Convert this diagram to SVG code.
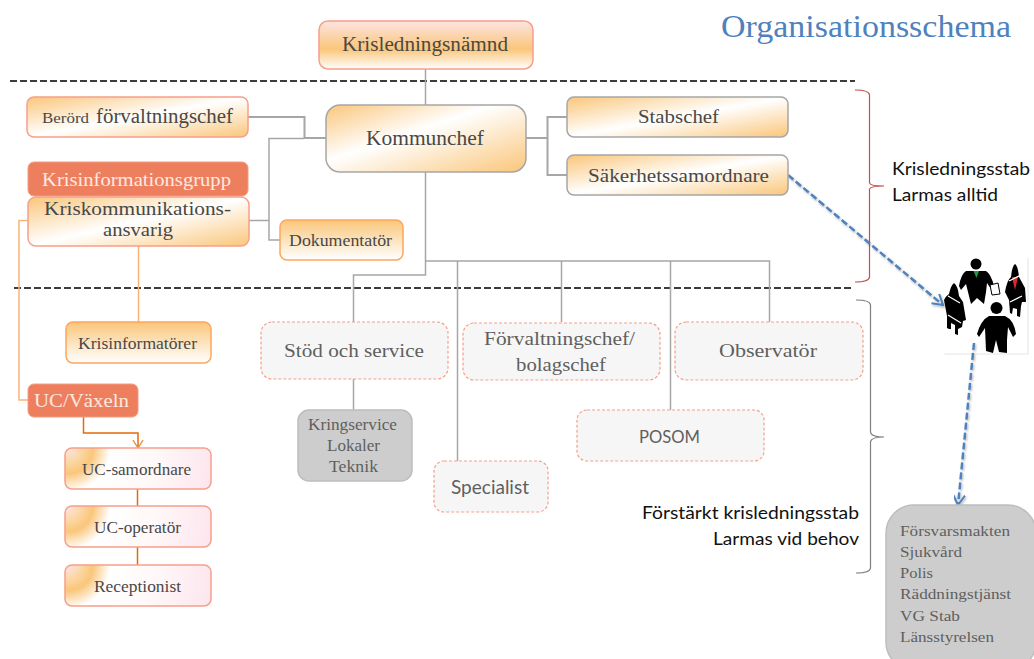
<svg xmlns="http://www.w3.org/2000/svg" width="1034" height="659" viewBox="0 0 1034 659">
<style>
text{font-family:"Liberation Serif",serif;fill:#484848;font-size:19px}
.s{font-family:Lato,"Liberation Sans",sans-serif}
.sm{font-size:15px}
.md{font-size:17px}
.lg{font-size:20px}
.gr{fill:#5f5f5f}
.w{fill:#FCE9E1}
.blk{fill:#111;font-family:Lato,"Liberation Sans",sans-serif;font-size:18px}
.dash{stroke:#3c3c3c;stroke-width:2;stroke-dasharray:7 3;fill:none}
.c{fill:none;stroke:#A6A6A6;stroke-width:1.5}
.c2{fill:none;stroke:#A6A6A6;stroke-width:2}
.o{fill:none;stroke:#F9B277;stroke-width:1.5}
.o2{fill:none;stroke:#E36C0A;stroke-width:1.5}
.b{fill:none;stroke:#4F81BD;stroke-width:2.5;stroke-dasharray:7 3;filter:url(#sh)}
.pnk{stroke:#F79F8B;stroke-width:1.5}
.gry{stroke:#A6A6A6;stroke-width:1.5}
.org{stroke:#FDA65C;stroke-width:1.5}
.dsh{fill:#F6F6F6;stroke:#F79F8B;stroke-width:1.2;stroke-dasharray:3 2}
.grey{fill:#CDCDCD;stroke:#BDBDBD;stroke-width:1.5}
.red{fill:#EE7F5E;stroke:#F59C80;stroke-width:1}
.k{fill:#000}
</style>
<defs>
<linearGradient id="g1" x1="0" y1="0" x2="0" y2="1"><stop offset="0" stop-color="#FDE4E3"/><stop offset=".58" stop-color="#FAC67A"/><stop offset="1" stop-color="#fff"/></linearGradient>
<linearGradient id="g2" x1="0" y1="0" x2="1" y2="1"><stop offset="0" stop-color="#FAC67A"/><stop offset=".5" stop-color="#fff"/><stop offset="1" stop-color="#FAC67A"/></linearGradient>
<linearGradient id="g2k" x1="0" y1="0" x2="1" y2="1"><stop offset="0" stop-color="#FAC67A"/><stop offset=".42" stop-color="#fff"/><stop offset="1" stop-color="#FAC67A"/></linearGradient>
<linearGradient id="g3" x1="0" y1="0" x2="0" y2="1"><stop offset="0" stop-color="#FAC67A"/><stop offset="1" stop-color="#fff"/></linearGradient>
<radialGradient id="g4" gradientUnits="objectBoundingBox" cx="0" cy="0" r="1" gradientTransform="translate(0.02 0.02) scale(1 3.56)"><stop offset="0" stop-color="#FDE4E3"/><stop offset=".1" stop-color="#FBD6A0"/><stop offset=".17" stop-color="#FAC67A"/><stop offset=".29" stop-color="#fff"/><stop offset=".6" stop-color="#FFF8F8"/><stop offset="1" stop-color="#FDE6EF"/></radialGradient>
<filter id="sh" x="-20%" y="-20%" width="140%" height="140%"><feDropShadow dx="1" dy="1.5" stdDeviation="1" flood-color="#000" flood-opacity=".3"/></filter>
<marker id="ao" markerWidth="12" markerHeight="12" refX="9" refY="6" orient="auto" markerUnits="userSpaceOnUse"><path d="M1 1L9 6L1 11" fill="none" stroke="#E98A3A" stroke-width="1.4"/></marker>
<marker id="ab" markerWidth="16" markerHeight="16" refX="12" refY="8" orient="auto" markerUnits="userSpaceOnUse"><path d="M2 2L12 8L2 14" fill="none" stroke="#4F81BD" stroke-width="2"/></marker>
</defs>
<rect width="1034" height="659" fill="#fff"/>

<g id="connectors">
<path class="dash" d="M10 81H855"/>
<path class="dash" d="M14 288H853"/>
<path class="c" d="M425.500 69V105"/>
<path class="c2" d="M248 117H304.500V138H326"/>
<path class="c" d="M249 220.500H269M269 220.500V138.500H304M269 220.500V240H280"/>
<path class="c2" d="M526 138H547"/>
<path class="c2" d="M567 117H547.500V175H567"/>
<path class="c" d="M425.500 172V275H353.500V322M353.500 379V410"/>
<path class="c" d="M425.500 261H769.500V322M457.500 261V461M561.500 261V322M670.500 261V410"/>
<path class="o" d="M28 220.500H19V400H28"/>
<path class="o" d="M138.500 246V322"/>
<path class="o2" stroke="#E98A3A" d="M83.500 417V433H138V448" marker-end="url(#ao)"/>
<path class="o2" d="M137.500 489V506M137.500 547V565"/>
<path d="M855 90Q869 90 869.500 95V183Q870 186 884 186Q870 186 869.500 189V277Q869 282 855 282" fill="none" stroke="#C0504D" stroke-width="1.200"/>
<path d="M856 300Q870 300 870.500 305V432Q871 437 884 437Q871 437 870.500 442V568Q870 573 856 573" fill="none" stroke="#7F7F7F" stroke-width="1.200"/>
</g>

<g id="people">
<path d="M944.500 354H1028V258" fill="none" stroke="#E4E4E4" stroke-width="1"/>
<circle class="k" cx="976" cy="264" r="5.500"/>
<path class="k" d="M966 271H986Q991 274 994 286L991 289L987 283L986 292L984 304L977 298L971 304L968 292L966 284L961 290L959 286Q961 274 966 271Z"/>
<path d="M973.500 271H979L976.500 278Z" fill="#1E9B45"/>
<path d="M990 285L998 283L1000 294L992 295Z" fill="#fff" stroke="#000" stroke-width="1"/>
<path class="k" d="M1015 264Q1018 266 1019 277L1025 288L1026 302L1022 302L1021 306L1020 317L1017 316V309L1013 308L1012 314L1010 313L1009 300L1005 292Q1007 280 1011 277Q1012 266 1015 264Z"/>
<path d="M1012 277L1018 277L1015 290Z" fill="#D92B2B"/>
<path class="k" d="M954 283Q958 286 959 296L963 302L966 320L963 321L962 327L958 329L958 335L955 334L955 325L951 323V329L949 329L947 328L947 316L944 300Q946 296 949 294Q951 285 954 283Z"/>
<path d="M948 296L960 303M948 315L961 323" stroke="#fff" stroke-width="1.200" fill="none"/>
<path d="M1009 281L1023 274M1010 302L1022 296" stroke="#fff" stroke-width="1.200" fill="none"/>
<circle class="k" cx="996.500" cy="308" r="6"/>
<path class="k" d="M989 316H1005Q1014 320 1016 334L1013 337L1008 327L1007 340L1007 353L999 352L996 340L993 353L986 351L985 328L979 337L977 334Q981 320 989 316Z"/>
</g>

<g id="blue-arrows">
<path class="b" d="M788 175L943 305" marker-end="url(#ab)"/>
<path class="b" d="M974 343L958 505" marker-end="url(#ab)"/>
</g>

<g id="n-krisledningsnamnd"><rect x="319" y="21" width="214" height="48" rx="9" fill="url(#g1)" class="pnk"/><text x="342" y="51" class="lg" textLength="166" lengthAdjust="spacingAndGlyphs">Krisledningsnämnd</text></g>
<g id="n-berord"><rect x="27" y="97" width="221" height="40" rx="7" fill="url(#g2)" class="pnk"/><text x="42" y="123" class="sm" textLength="47" lengthAdjust="spacingAndGlyphs">Berörd</text><text x="96" y="123" class="lg" textLength="137" lengthAdjust="spacingAndGlyphs">förvaltningschef</text></g>
<g id="n-kommunchef"><rect x="326" y="105" width="200" height="67" rx="14" fill="url(#g2k)" class="gry"/><text x="366" y="145" class="lg" textLength="118" lengthAdjust="spacingAndGlyphs">Kommunchef</text></g>
<g id="n-stabschef"><rect x="567" y="97" width="221" height="40" rx="7" fill="url(#g2)" class="gry"/><text x="638" y="123" textLength="81" lengthAdjust="spacingAndGlyphs">Stabschef</text></g>
<g id="n-sakerhet"><rect x="567" y="155" width="221" height="40" rx="7" fill="url(#g2)" class="gry"/><text x="588" y="182" textLength="181" lengthAdjust="spacingAndGlyphs">Säkerhetssamordnare</text></g>
<g id="n-krisinformationsgrupp"><rect x="28" y="162" width="220" height="34" rx="6" class="red"/><text x="42" y="186" class="w" textLength="189" lengthAdjust="spacingAndGlyphs">Krisinformationsgrupp</text></g>
<g id="n-kriskomm"><rect x="28" y="197" width="221" height="49" rx="8" fill="url(#g2)" class="pnk"/><text x="44" y="215" textLength="187" lengthAdjust="spacingAndGlyphs">Kriskommunikations-</text><text x="103" y="236" textLength="70" lengthAdjust="spacingAndGlyphs">ansvarig</text></g>
<g id="n-dokumentator"><rect x="280" y="220" width="123" height="40" rx="7" fill="url(#g3)" class="org"/><text x="289" y="246" class="md" textLength="103" lengthAdjust="spacingAndGlyphs">Dokumentatör</text></g>
<g id="n-krisinformatorer"><rect x="66" y="322" width="145" height="41" rx="7" fill="url(#g3)" class="org"/><text x="78" y="349" class="md" textLength="119" lengthAdjust="spacingAndGlyphs">Krisinformatörer</text></g>
<g id="n-ucvaxeln"><rect x="28" y="384" width="110" height="33" rx="6" class="red"/><text x="34" y="407" class="w" textLength="95" lengthAdjust="spacingAndGlyphs">UC/Växeln</text></g>
<g id="n-ucsamordnare"><rect x="65" y="448" width="146" height="41" rx="7" fill="url(#g4)" class="pnk"/><text x="82" y="475" class="md" textLength="109" lengthAdjust="spacingAndGlyphs">UC-samordnare</text></g>
<g id="n-ucoperator"><rect x="65" y="506" width="146" height="41" rx="7" fill="url(#g4)" class="pnk"/><text x="94" y="533" class="md" textLength="87" lengthAdjust="spacingAndGlyphs">UC-operatör</text></g>
<g id="n-receptionist"><rect x="65" y="565" width="146" height="41" rx="7" fill="url(#g4)" class="pnk"/><text x="94" y="592" class="md" textLength="87" lengthAdjust="spacingAndGlyphs">Receptionist</text></g>
<g id="n-stod"><rect x="261" y="322" width="187" height="57" rx="11" class="dsh"/><text x="284" y="357" class="gr" textLength="140" lengthAdjust="spacingAndGlyphs">Stöd och service</text></g>
<g id="n-kringservice"><rect x="298" y="410" width="114" height="71" rx="11" class="grey"/><text x="308" y="430" class="md gr" textLength="89" lengthAdjust="spacingAndGlyphs">Kringservice</text><text x="327" y="451" class="md gr" textLength="53" lengthAdjust="spacingAndGlyphs">Lokaler</text><text x="329" y="472" class="md gr" textLength="49" lengthAdjust="spacingAndGlyphs">Teknik</text></g>
<g id="n-forvaltningschef"><rect x="463" y="323" width="197" height="57" rx="11" class="dsh"/><text x="484" y="345" class="gr" textLength="151" lengthAdjust="spacingAndGlyphs">Förvaltningschef/</text><text x="516" y="371" class="gr" textLength="90" lengthAdjust="spacingAndGlyphs">bolagschef</text></g>
<g id="n-observator"><rect x="675" y="322" width="188" height="58" rx="11" class="dsh"/><text x="719" y="357" class="gr" textLength="98" lengthAdjust="spacingAndGlyphs">Observatör</text></g>
<g id="n-posom"><rect x="577" y="410" width="187" height="51" rx="10" class="dsh"/><text x="639" y="443" class="s gr" style="font-size:18px" textLength="61" lengthAdjust="spacingAndGlyphs">POSOM</text></g>
<g id="n-specialist"><rect x="434" y="461" width="114" height="51" rx="10" class="dsh"/><text x="451" y="494" class="s gr" style="font-size:19px" textLength="78" lengthAdjust="spacingAndGlyphs">Specialist</text></g>
<g id="n-externa"><rect x="886" y="505" width="150" height="165" rx="28" class="grey"/>
<text x="900" y="536" class="sm gr" textLength="110" lengthAdjust="spacingAndGlyphs">Försvarsmakten</text>
<text x="900" y="557" class="sm gr" textLength="62" lengthAdjust="spacingAndGlyphs">Sjukvård</text>
<text x="900" y="578" class="sm gr" textLength="33" lengthAdjust="spacingAndGlyphs">Polis</text>
<text x="900" y="599" class="sm gr" textLength="111" lengthAdjust="spacingAndGlyphs">Räddningstjänst</text>
<text x="900" y="621" class="sm gr" textLength="60" lengthAdjust="spacingAndGlyphs">VG Stab</text>
<text x="900" y="642" class="sm gr" textLength="94" lengthAdjust="spacingAndGlyphs">Länsstyrelsen</text></g>

<g id="labels">
<text x="721" y="37" style="font-size:32px;fill:#4F81BD" textLength="290" lengthAdjust="spacingAndGlyphs">Organisationsschema</text>
<text x="892" y="175" class="blk" textLength="138" lengthAdjust="spacingAndGlyphs">Krisledningsstab</text>
<text x="892" y="201" class="blk" textLength="106" lengthAdjust="spacingAndGlyphs">Larmas alltid</text>
<text x="642" y="519" class="blk" textLength="217" lengthAdjust="spacingAndGlyphs">Förstärkt krisledningsstab</text>
<text x="713" y="545" class="blk" textLength="146" lengthAdjust="spacingAndGlyphs">Larmas vid behov</text>
</g>
</svg>
